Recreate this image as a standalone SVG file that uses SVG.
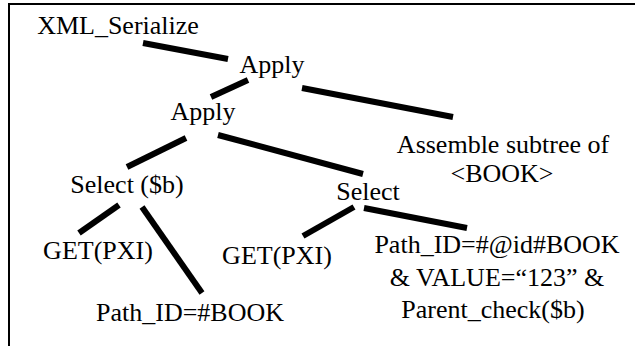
<svg xmlns="http://www.w3.org/2000/svg" width="635" height="346" viewBox="0 0 635 346">
<style>
text{font-family:'Liberation Serif','Times New Roman',Times,serif;font-size:26px;fill:#000;text-anchor:middle}
.c line{stroke:#000;stroke-width:6}
.b{stroke:#000;stroke-width:2;fill:none}
</style>
<rect width="635" height="346" fill="#fff"/>
<path class="b" d="M9,346 V4 H635"/>
<g class="c" id="connectors">
<line x1="143" y1="43" x2="228" y2="59"/>
<line x1="248" y1="80" x2="211" y2="97"/>
<line x1="302" y1="88" x2="453" y2="117"/>
<line x1="186" y1="138" x2="127" y2="167"/>
<line x1="218" y1="135" x2="363" y2="174"/>
<line x1="119" y1="205" x2="79" y2="233"/>
<line x1="142" y1="207" x2="202" y2="293"/>
<line x1="354" y1="207" x2="303" y2="236"/>
<line x1="364" y1="208" x2="467" y2="228"/>
</g>
<g id="n-xml"><text x="118" y="34">XML_Serialize</text></g>
<g id="n-apply1"><text x="272" y="73">Apply</text></g>
<g id="n-apply2"><text x="203" y="120">Apply</text></g>
<g id="n-assemble"><text x="503" y="153">Assemble subtree of</text><text x="502" y="182">&lt;BOOK&gt;</text></g>
<g id="n-selectb"><text x="127" y="193">Select ($b)</text></g>
<g id="n-select"><text x="368" y="200">Select</text></g>
<g id="n-get1"><text x="98" y="259">GET(PXI)</text></g>
<g id="n-get2"><text x="277" y="264">GET(PXI)</text></g>
<g id="n-path1"><text x="190" y="321">Path_ID=#BOOK</text></g>
<g id="n-path2"><text x="497" y="253">Path_ID=#@id#BOOK</text><text x="497" y="286">&amp; VALUE=“123” &amp;</text><text x="493" y="318">Parent_check($b)</text></g>
</svg>
